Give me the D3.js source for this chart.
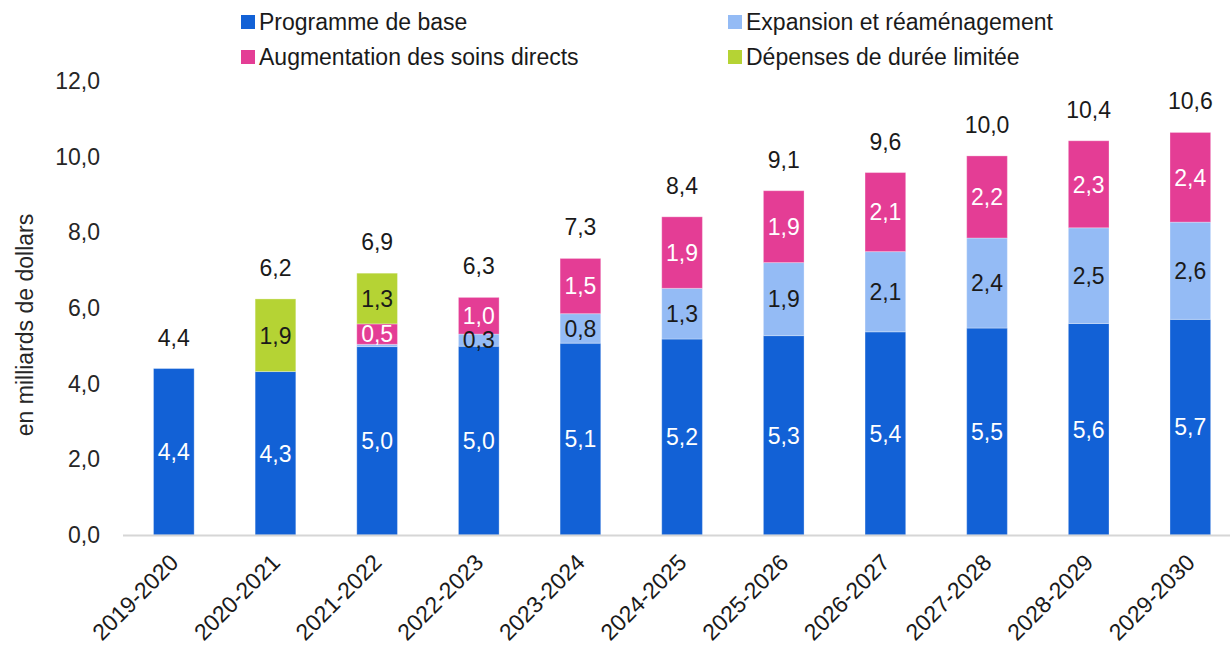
<!DOCTYPE html>
<html>
<head>
<meta charset="utf-8">
<script src="https://cdn.jsdelivr.net/npm/d3@7"></script>
<style>
  body { margin: 0; background: #fff; }
  text { font-family: "Liberation Sans", Arial, sans-serif; }
</style>
</head>
<body>
<div id="chart"></div>
<script>
const categories = ["2019-2020", "2020-2021", "2021-2022", "2022-2023", "2023-2024", "2024-2025",
  "2025-2026", "2026-2027", "2027-2028", "2028-2029", "2029-2030"];

// en milliards de dollars
const base      = [4.40, 4.32, 4.98, 4.99, 5.07, 5.18, 5.27, 5.37, 5.47, 5.59, 5.70];
const expansion = [0, 0, 0.06, 0.32, 0.78, 1.34, 1.93, 2.12, 2.38, 2.53, 2.57];
const direct    = [0, 0, 0.54, 0.97, 1.46, 1.89, 1.90, 2.09, 2.17, 2.30, 2.37];
const limited   = [0, 1.92, 1.34, 0, 0, 0, 0, 0, 0, 0, 0];

const yTicks = [0, 2, 4, 6, 8, 10, 12];

const series = [
  { key: "base", name: "Programme de base", values: base, color: "#1261d6", label: "#ffffff" },
  { key: "expansion", name: "Expansion et réaménagement", values: expansion, color: "#94bbf5", label: "#1a1a1a" },
  { key: "direct", name: "Augmentation des soins directs", values: direct, color: "#e43d95", label: "#ffffff" },
  { key: "limited", name: "Dépenses de durée limitée", values: limited, color: "#b5d334", label: "#1a1a1a" }
];

const width = 1230, height = 647;
const margin = { top: 81, left: 123, bottom: 112 };
const step = 101.65;

const fr = d3.formatLocale({ decimal: ",", thousands: " ", grouping: [3], currency: ["", " $"] });
const fmt = fr.format(".1f");

const rows = categories.map((c, i) => {
  const r = { category: c };
  series.forEach(s => r[s.key] = s.values[i]);
  return r;
});

const stacked = d3.stack().keys(series.map(s => s.key))(rows);

const x = d3.scaleBand()
  .domain(categories)
  .range([margin.left, margin.left + step * categories.length])
  .paddingInner(0.6)
  .paddingOuter(0.3);

const y = d3.scaleLinear()
  .domain([0, 12])
  .range([height - margin.bottom, margin.top]);

const svg = d3.select("#chart")
  .append("svg")
  .attr("width", width)
  .attr("height", height);

// y axis labels
svg.append("g")
  .attr("transform", `translate(${margin.left - 23},0)`)
  .call(d3.axisLeft(y).tickValues(yTicks).tickFormat(fmt).tickSize(0).tickPadding(0))
  .call(g => g.select(".domain").remove())
  .selectAll("text")
  .attr("font-size", 23)
  .attr("fill", "#262626")
  .style("font-family", "Liberation Sans, Arial, sans-serif");

svg.append("text")
  .attr("transform", `translate(33,325) rotate(-90)`)
  .attr("text-anchor", "middle")
  .attr("font-size", 23)
  .attr("fill", "#262626")
  .text("en milliards de dollars");

// bars
const layers = svg.append("g")
  .selectAll("g")
  .data(stacked)
  .join("g")
  .attr("fill", (d, i) => series[i].color);

layers.selectAll("rect")
  .data(d => d)
  .join("rect")
  .attr("x", d => x(d.data.category))
  .attr("y", d => y(d[1]))
  .attr("width", x.bandwidth())
  .attr("height", d => y(d[0]) - y(d[1]))
  .attr("stroke", "#ffffff")
  .attr("stroke-opacity", 0.3)
  .attr("stroke-width", 1);

// x axis line
svg.append("line")
  .attr("x1", margin.left)
  .attr("x2", x.range()[1])
  .attr("y1", y(0) + 0.5)
  .attr("y2", y(0) + 0.5)
  .attr("stroke", "#d6d6d6")
  .attr("stroke-width", 2);

// segment labels
stacked.forEach((layer, i) => {
  svg.append("g")
    .selectAll("text")
    .data(layer.filter(d => d[1] - d[0] >= 0.1))
    .join("text")
    .attr("x", d => x(d.data.category) + x.bandwidth() / 2)
    .attr("y", d => (y(d[0]) + y(d[1])) / 2)
    .attr("dy", "0.36em")
    .attr("text-anchor", "middle")
    .attr("font-size", 23)
    .attr("fill", series[i].label)
    .text(d => fmt(d[1] - d[0]));
});

// totals
const totals = rows.map(r => ({ category: r.category, total: d3.sum(series, s => r[s.key]) }));
svg.append("g")
  .selectAll("text")
  .data(totals)
  .join("text")
  .attr("x", d => x(d.category) + x.bandwidth() / 2)
  .attr("y", d => y(d.total) - 23)
  .attr("text-anchor", "middle")
  .attr("font-size", 23)
  .attr("fill", "#1a1a1a")
  .text(d => fmt(d.total));

// x labels
svg.append("g")
  .selectAll("text")
  .data(categories)
  .join("text")
  .attr("transform", d => `translate(${x(d) + x.bandwidth() / 2 + 6},564) rotate(-45)`)
  .attr("text-anchor", "end")
  .attr("font-size", 23)
  .attr("fill", "#1a1a1a")
  .text(d => d);

// legend
const legendPos = [
  { x: 241, y: 22 }, { x: 728, y: 22 }, { x: 241, y: 57 }, { x: 728, y: 57 }
];
const legend = svg.append("g")
  .selectAll("g")
  .data(series)
  .join("g")
  .attr("transform", (d, i) => `translate(${legendPos[i].x},${legendPos[i].y})`);

legend.append("rect")
  .attr("x", 0)
  .attr("y", -7)
  .attr("width", 14)
  .attr("height", 14)
  .attr("fill", d => d.color);

legend.append("text")
  .attr("x", 18)
  .attr("dy", "0.36em")
  .attr("font-size", 23)
  .attr("fill", "#1a1a1a")
  .text(d => d.name);
</script>
</body>
</html>
